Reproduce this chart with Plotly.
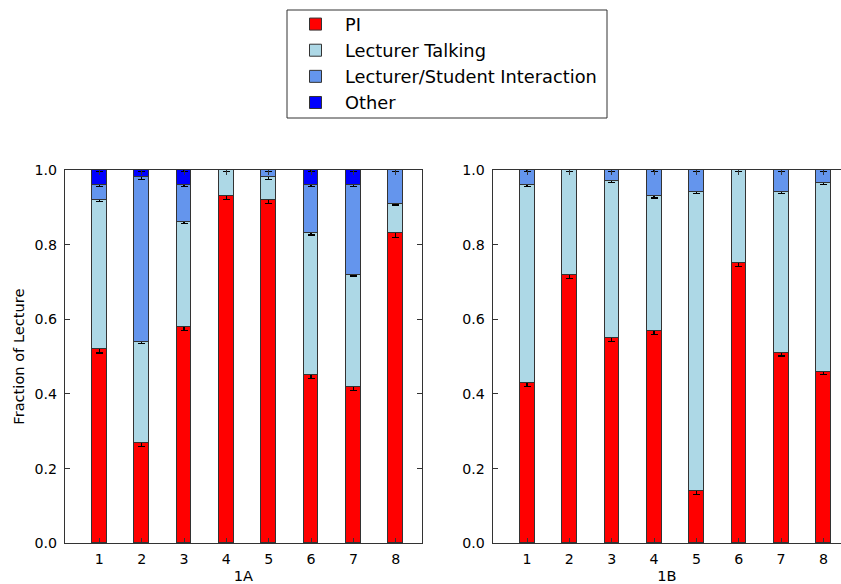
import plotly.graph_objects as go

# ---- data ----
lectures = [1, 2, 3, 4, 5, 6, 7, 8]
series_names = ["PI", "Lecturer Talking", "Lecturer/Student Interaction", "Other"]
series_colors = ["#ff0000", "#add8e6", "#6495ed", "#0000ff"]

# Panel 1A fractions
pi_1a = [0.52, 0.27, 0.58, 0.93, 0.92, 0.45, 0.42, 0.83]
talk_1a = [0.40, 0.27, 0.28, 0.07, 0.06, 0.38, 0.30, 0.08]
inter_1a = [0.04, 0.44, 0.10, 0.00, 0.02, 0.13, 0.24, 0.09]
other_1a = [0.04, 0.02, 0.04, 0.00, 0.00, 0.04, 0.04, 0.00]

# Panel 1B fractions
pi_1b = [0.43, 0.72, 0.55, 0.57, 0.14, 0.75, 0.51, 0.46]
talk_1b = [0.53, 0.28, 0.42, 0.36, 0.80, 0.25, 0.43, 0.505]
inter_1b = [0.04, 0.00, 0.03, 0.07, 0.06, 0.00, 0.06, 0.035]
other_1b = [0.00, 0.00, 0.00, 0.00, 0.00, 0.00, 0.00, 0.00]

# error bars (half-widths)
pi_err_1a = [0.010, 0.010, 0.010, 0.010, 0.010, 0.009, 0.010, 0.010]
talk_err_1a = [0.004, 0.004, 0.004, 0.004, 0.006, 0.004, 0.004, 0.004]
inter_err_1a = [0.004, 0.005, 0.004, 0.004, 0.005, 0.004, 0.004, 0.004]
other_err_1a = [0.004, 0.004, 0.004, 0.004, 0.004, 0.004, 0.004, 0.004]

pi_err_1b = [0.010, 0.010, 0.009, 0.010, 0.009, 0.009, 0.008, 0.008]
talk_err_1b = [0.004, 0.004, 0.004, 0.005, 0.004, 0.004, 0.004, 0.004]
inter_err_1b = [0.004, 0.004, 0.004, 0.004, 0.004, 0.004, 0.004, 0.004]
other_err_1b = [0.000, 0.000, 0.000, 0.000, 0.000, 0.000, 0.000, 0.000]

y_ticks = [0.0, 0.2, 0.4, 0.6, 0.8, 1.0]
y_tick_labels = ["0.0", "0.2", "0.4", "0.6", "0.8", "1.0"]
panel_titles = ["1A", "1B"]
y_title = "Fraction of Lecture"

FONT = "DejaVu Sans"
EDGE = "#333333"
W, H = 841, 584

panels = [
    ([pi_1a, talk_1a, inter_1a, other_1a], [pi_err_1a, talk_err_1a, inter_err_1a, other_err_1a], "x", "y"),
    ([pi_1b, talk_1b, inter_1b, other_1b], [pi_err_1b, talk_err_1b, inter_err_1b, other_err_1b], "x2", "y2"),
]

fig = go.Figure()
for p, (vals, errs, xa, ya) in enumerate(panels):
    for i, name in enumerate(series_names):
        if p == 1 and name == "Other":
            continue
        fig.add_trace(go.Bar(
            x=lectures, y=vals[i], name=name,
            xaxis=xa, yaxis=ya, width=0.35,
            marker=dict(color=series_colors[i], line=dict(color=EDGE, width=1)),
            error_y=dict(type="data", array=errs[i], color="black", thickness=1.2, width=3.5),
            showlegend=(p == 0), legendgroup=name,
        ))

# axes geometry (pixels)
ytop, ybot = 170, 543.3
unit = 42.35
left_l, left_r = 65, 421.7
right_l = 492.7

dom_y = [1 - ybot / H, 1 - ytop / H]
common_y = dict(range=[0, 1], tickvals=y_ticks, ticktext=y_tick_labels, ticks="inside", ticklen=5,
                tickcolor=EDGE, showline=True, linecolor=EDGE, linewidth=1, showgrid=False,
                zeroline=False, automargin=False, ticklabelstandoff=4,
                tickfont=dict(family=FONT, size=14.2, color="black"))
common_x = dict(tickvals=lectures, ticktext=[str(v) for v in lectures], ticks="inside", ticklen=5,
                tickcolor=EDGE, showline=True, linecolor=EDGE, linewidth=1, showgrid=False,
                zeroline=False, mirror="allticks", automargin=False, ticklabelstandoff=3,
                tickfont=dict(family=FONT, size=14.2, color="black"))

x1_lo = 1 - (99.3 - left_l) / unit
x1_hi = x1_lo + (left_r - left_l) / unit
x2_hi = x1_lo + (W - right_l) / unit

# legend frame (pixels)
leg_l, leg_t, leg_r, leg_b = 287, 10, 607, 118

fig.update_layout(
    width=W, height=H,
    margin=dict(l=0, r=0, t=0, b=0),
    paper_bgcolor="white", plot_bgcolor="white",
    barmode="stack",
    font=dict(family=FONT, color="black"),
    xaxis=dict(common_x, domain=[left_l / W, left_r / W], range=[x1_lo, x1_hi],
               title=dict(text=panel_titles[0], font=dict(family=FONT, size=14.6), standoff=5)),
    yaxis=dict(common_y, domain=dom_y, anchor="x", mirror="allticks",
               title=dict(text=y_title, font=dict(family=FONT, size=14.6), standoff=6)),
    xaxis2=dict(common_x, domain=[right_l / W, 1.0], range=[x1_lo, x2_hi], anchor="y2",
                title=dict(text=panel_titles[1], font=dict(family=FONT, size=14.6), standoff=5)),
    yaxis2=dict(common_y, domain=dom_y, anchor="x2", mirror=False),
    legend=dict(x=(leg_l - 1) / W, y=1 - (leg_t - 4) / H, xanchor="left", yanchor="top",
                borderwidth=0, bgcolor="rgba(0,0,0,0)",
                font=dict(family=FONT, size=17.8, color="black"),
                traceorder="normal", itemwidth=49),
    shapes=[dict(type="rect", xref="paper", yref="paper",
                 x0=leg_l / W, x1=leg_r / W, y0=1 - leg_b / H, y1=1 - leg_t / H,
                 line=dict(color=EDGE, width=1), fillcolor="rgba(0,0,0,0)")],
    bargap=0,
)

fig.write_html("out.html",
               config={"displayModeBar": False},
               post_script="document.body.style.margin='0';document.body.style.overflow='hidden';")
